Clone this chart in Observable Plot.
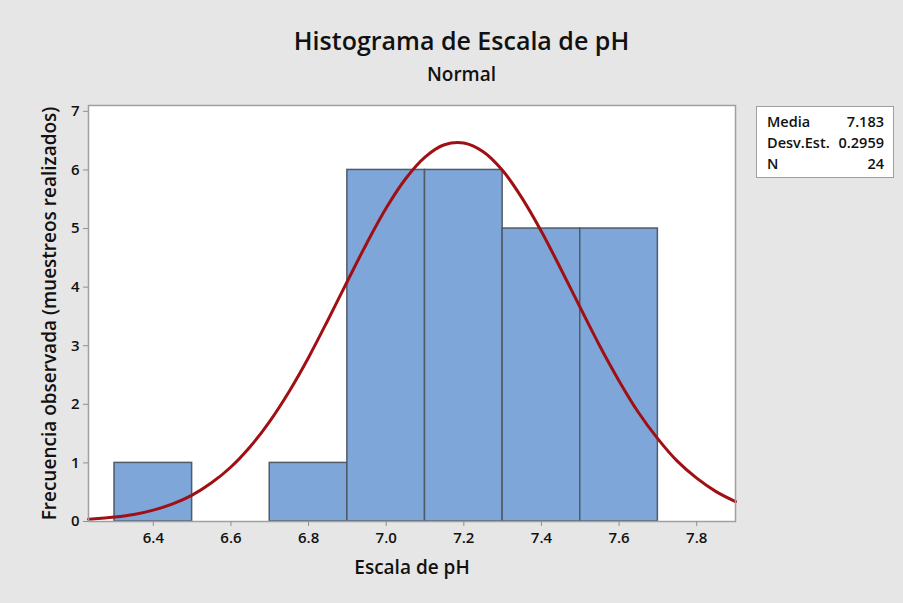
<!DOCTYPE html>
<html>
<head>
<meta charset="utf-8">
<script src="https://cdn.jsdelivr.net/npm/d3@7"></script>
<script src="https://cdn.jsdelivr.net/npm/@observablehq/plot@0.6"></script>
<style>
  html, body { margin: 0; padding: 0; background: #e6e6e6; }
  #wrap { position: relative; width: 903px; height: 603px; background: #e6e6e6; font-family: "Open Sans", "Noto Sans", sans-serif; overflow: hidden; }
  #title { position: absolute; left: 88px; width: 747px; top: 28px; text-align: center; font-size: 25px; font-weight: 600; color: #111; line-height: 1; }
  #subtitle { position: absolute; left: 88px; width: 747px; top: 65px; text-align: center; font-size: 19px; font-weight: 600; color: #111; line-height: 1; }
  #stats { position: absolute; left: 756px; top: 106px; width: 138px; height: 72px; background: #fff; border: 1px solid #a0a0a0; box-sizing: border-box; font-size: 14.5px; font-weight: 600; color: #111; padding: 4px 9px 0 10px; }
  #stats .row { display: flex; justify-content: space-between; height: 21px; line-height: 21px; }
  #chart { position: absolute; left: 0; top: 0; }
  #chart svg { background: transparent !important; font-family: "Open Sans", "Noto Sans", sans-serif; }
  #chart svg g[aria-label$="tick label"], #chart svg g[aria-label$="tick label"] text { font-size: 15px !important; fill: #111; font-weight: 600; }
  #chart svg g[aria-label$="axis label"], #chart svg g[aria-label$="axis label"] text { font-size: 19px !important; font-weight: 600; fill: #111; }
</style>
</head>
<body>
<div id="wrap">
  <div id="chart"></div>
  <div id="title">Histograma de Escala de pH</div>
  <div id="subtitle">Normal</div>
  <div id="stats"></div>
</div>
<script>
// Histogram bins (pH) and observed frequencies
const binLo = [6.3, 6.5, 6.7, 6.9, 7.1, 7.3, 7.5];
const binHi = [6.5, 6.7, 6.9, 7.1, 7.3, 7.5, 7.7];
const counts = [1, 0, 1, 6, 6, 5, 5];

// Fitted normal curve
const curveX = [6.233, 6.25, 6.30, 6.35, 6.40, 6.45, 6.50, 6.55, 6.60, 6.65, 6.70, 6.75, 6.80, 6.85, 6.90, 6.95, 7.00, 7.05, 7.10, 7.15, 7.20, 7.25, 7.30, 7.35, 7.40, 7.45, 7.50, 7.55, 7.60, 7.65, 7.70, 7.75, 7.80, 7.85, 7.90];
const curveY = [0.04, 0.045, 0.075, 0.12, 0.195, 0.30, 0.45, 0.66, 0.93, 1.28, 1.71, 2.22, 2.80, 3.44, 4.10, 4.75, 5.35, 5.85, 6.22, 6.43, 6.46, 6.31, 5.99, 5.52, 4.95, 4.31, 3.65, 3.00, 2.40, 1.86, 1.41, 1.03, 0.74, 0.51, 0.34];

// Tick labels
const xTicks = [6.4, 6.6, 6.8, 7.0, 7.2, 7.4, 7.6, 7.8];
const yTicks = [0, 1, 2, 3, 4, 5, 6, 7];

// Stats legend
const statLabels = ["Media", "Desv.Est.", "N"];
const statValues = ["7.183", "0.2959", "24"];

const bars = binLo.map((lo, i) => ({lo, hi: binHi[i], n: counts[i]})).filter(d => d.n > 0);
const curve = curveX.map((x, i) => ({x, y: curveY[i]}));

const chart = Plot.plot({
  width: 903,
  height: 603,
  marginLeft: 88,
  marginRight: 168,
  marginTop: 105,
  marginBottom: 82,
  style: {background: "transparent", overflow: "visible"},
  x: {domain: [6.233, 7.9], ticks: xTicks, tickFormat: d3.format(".1f")},
  y: {domain: [0, 7.1], ticks: yTicks},
  marks: [
    Plot.frame({fill: "white", stroke: "none"}),
    Plot.rectY(bars, {x1: "lo", x2: "hi", y1: 0, y2: "n", fill: "#7ea6d8", stroke: "#4f5b67", strokeWidth: 1.5}),
    Plot.line(curve, {x: "x", y: "y", stroke: "#a00f14", strokeWidth: 3, curve: "catmull-rom"}),
    Plot.frame({stroke: "#a0a0a0", strokeWidth: 1.5}),
    Plot.axisX({ticks: xTicks, tickFormat: d3.format(".1f"), tickSize: 5, tickPadding: 6, fontSize: 15, stroke: "#909090", label: "Escala de pH", labelAnchor: "center", labelArrow: "none", labelOffset: 52}),
    Plot.axisY({ticks: yTicks, tickSize: 5, tickPadding: 4, fontSize: 15, stroke: "#909090", label: "Frecuencia observada (muestreos realizados)", labelAnchor: "center", labelArrow: "none", labelOffset: 46})
  ]
});
document.getElementById("chart").appendChild(chart);

const stats = document.getElementById("stats");
statLabels.forEach((lab, i) => {
  const row = document.createElement("div");
  row.className = "row";
  const a = document.createElement("span"); a.textContent = lab;
  const b = document.createElement("span"); b.textContent = statValues[i];
  row.appendChild(a); row.appendChild(b);
  stats.appendChild(row);
});
</script>
</body>
</html>
